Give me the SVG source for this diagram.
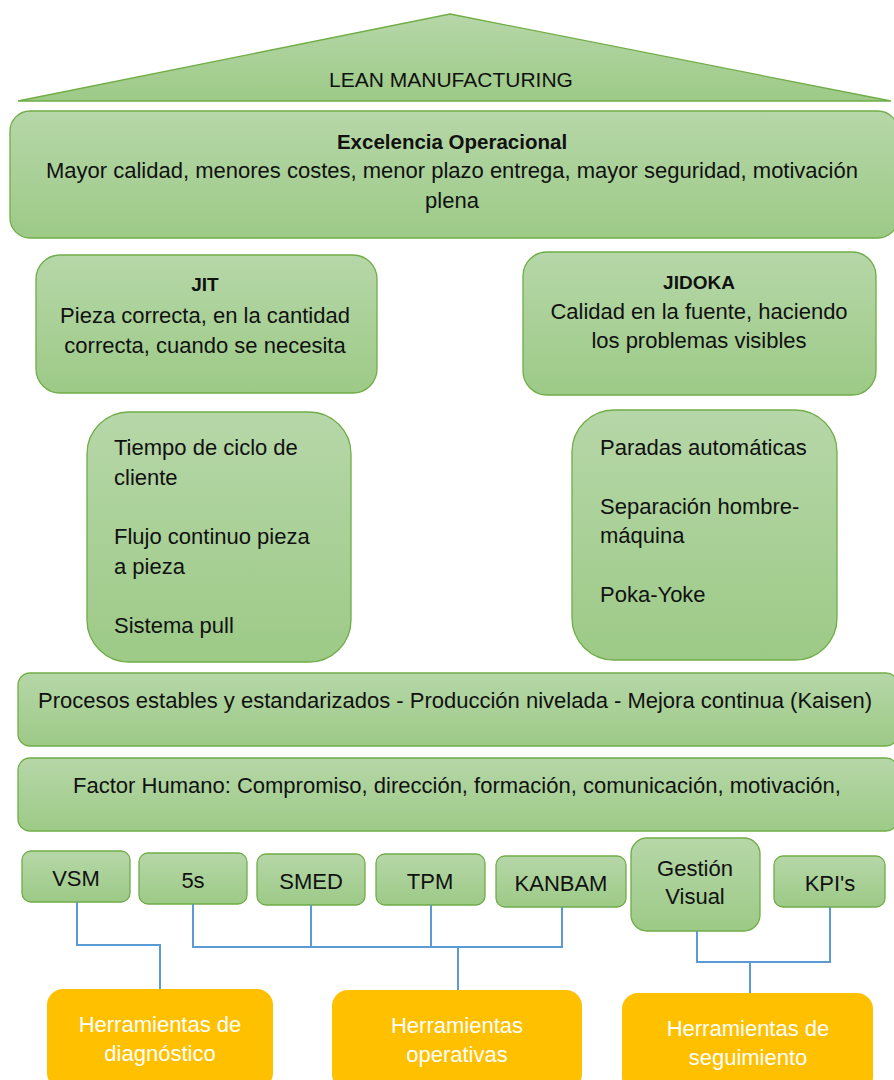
<svg xmlns="http://www.w3.org/2000/svg" width="894" height="1080" viewBox="0 0 894 1080">
<defs>
<linearGradient id="g" x1="0" y1="0" x2="0" y2="1">
<stop offset="0" stop-color="#B6D7A8"/>
<stop offset="1" stop-color="#9DCA87"/>
</linearGradient>
<style>
.n{fill:url(#g);stroke:#70AD47;stroke-width:1.3}
.o{fill:#FFC000;stroke:none}
.t{font-family:"Liberation Sans",Arial,sans-serif;font-size:22px;fill:#111}
.c{text-anchor:middle}
.b{font-weight:bold}
.w{fill:#fff}
.l{fill:none;stroke:#5B9BD5;stroke-width:2}
</style>
</defs>
<rect width="894" height="1080" fill="#fff"/>
<g id="roof">
<polygon class="n" points="450,14 891,101 18,101"/>
<text class="t c" x="451" y="87" style="font-size:21px">LEAN MANUFACTURING</text>
</g>
<g id="excelencia">
<rect class="n" x="10" y="111" width="888" height="127" rx="20"/>
<text class="t c b" x="452" y="149" style="font-size:20.5px">Excelencia Operacional</text>
<text class="t c" x="452" y="178">Mayor calidad, menores costes, menor plazo entrega, mayor seguridad, motivación</text>
<text class="t c" x="452" y="208">plena</text>
</g>
<g id="jit">
<rect class="n" x="36" y="255" width="341" height="138" rx="24"/>
<text class="t c b" x="205" y="291" style="font-size:19px">JIT</text>
<text class="t c" x="205" y="323">Pieza correcta, en la cantidad</text>
<text class="t c" x="205" y="353">correcta, cuando se necesita</text>
</g>
<g id="jidoka">
<rect class="n" x="523" y="252" width="353" height="143" rx="24"/>
<text class="t c b" x="699" y="289" style="font-size:19px">JIDOKA</text>
<text class="t c" x="699" y="319">Calidad en la fuente, haciendo</text>
<text class="t c" x="699" y="348">los problemas visibles</text>
</g>
<g id="jit-list">
<rect class="n" x="87" y="412" width="264" height="250" rx="42"/>
<text class="t" x="114" y="455">Tiempo de ciclo de</text>
<text class="t" x="114" y="485">cliente</text>
<text class="t" x="114" y="544">Flujo continuo pieza</text>
<text class="t" x="114" y="574">a pieza</text>
<text class="t" x="114" y="633">Sistema pull</text>
</g>
<g id="jidoka-list">
<rect class="n" x="572" y="410" width="265" height="250" rx="42"/>
<text class="t" x="600" y="455">Paradas automáticas</text>
<text class="t" x="600" y="514">Separación hombre-</text>
<text class="t" x="600" y="543">máquina</text>
<text class="t" x="600" y="602">Poka-Yoke</text>
</g>
<g id="procesos">
<rect class="n" x="18" y="673" width="880" height="73" rx="12"/>
<text class="t c" x="455" y="708">Procesos estables y estandarizados - Producción nivelada - Mejora continua (Kaisen)</text>
</g>
<g id="factor">
<rect class="n" x="18" y="758" width="880" height="73" rx="12"/>
<text class="t c" x="457" y="793">Factor Humano: Compromiso, dirección, formación, comunicación, motivación,</text>
</g>
<g id="vsm">
<rect class="n" x="22" y="851" width="108" height="51" rx="9"/>
<text class="t c" x="76" y="886">VSM</text>
</g>
<g id="s5">
<rect class="n" x="139" y="853" width="108" height="51" rx="9"/>
<text class="t c" x="193" y="888">5s</text>
</g>
<g id="smed">
<rect class="n" x="257" y="854" width="108" height="51" rx="9"/>
<text class="t c" x="311" y="889">SMED</text>
</g>
<g id="tpm">
<rect class="n" x="376" y="854" width="109" height="51" rx="9"/>
<text class="t c" x="430" y="889">TPM</text>
</g>
<g id="kanbam">
<rect class="n" x="496" y="856" width="130" height="51" rx="9"/>
<text class="t c" x="561" y="891">KANBAM</text>
</g>
<g id="gestion">
<rect class="n" x="631" y="838" width="129" height="93" rx="16"/>
<text class="t c" x="695" y="876">Gestión</text>
<text class="t c" x="695" y="904">Visual</text>
</g>
<g id="kpis">
<rect class="n" x="774" y="856" width="111" height="51" rx="9"/>
<text class="t c" x="830" y="891">KPI's</text>
</g>
<g id="connectors">
<polyline class="l" points="77,902 77,945 160,945 160,989"/>
<polyline class="l" points="193,904 193,947 562,947 562,907"/>
<line class="l" x1="311" y1="905" x2="311" y2="947"/>
<line class="l" x1="431" y1="905" x2="431" y2="947"/>
<line class="l" x1="458" y1="947" x2="458" y2="990"/>
<polyline class="l" points="697,931 697,962 830,962 830,907"/>
<line class="l" x1="750" y1="962" x2="750" y2="993"/>
</g>
<g id="diagnostico">
<rect class="o" x="47" y="989" width="226" height="100" rx="16"/>
<text class="t c w" x="160" y="1032">Herramientas de</text>
<text class="t c w" x="160" y="1061">diagnóstico</text>
</g>
<g id="operativas">
<rect class="o" x="332" y="990" width="250" height="100" rx="16"/>
<text class="t c w" x="457" y="1033">Herramientas</text>
<text class="t c w" x="457" y="1062">operativas</text>
</g>
<g id="seguimiento">
<rect class="o" x="622" y="993" width="251" height="100" rx="16"/>
<text class="t c w" x="748" y="1036">Herramientas de</text>
<text class="t c w" x="748" y="1065">seguimiento</text>
</g>
</svg>
